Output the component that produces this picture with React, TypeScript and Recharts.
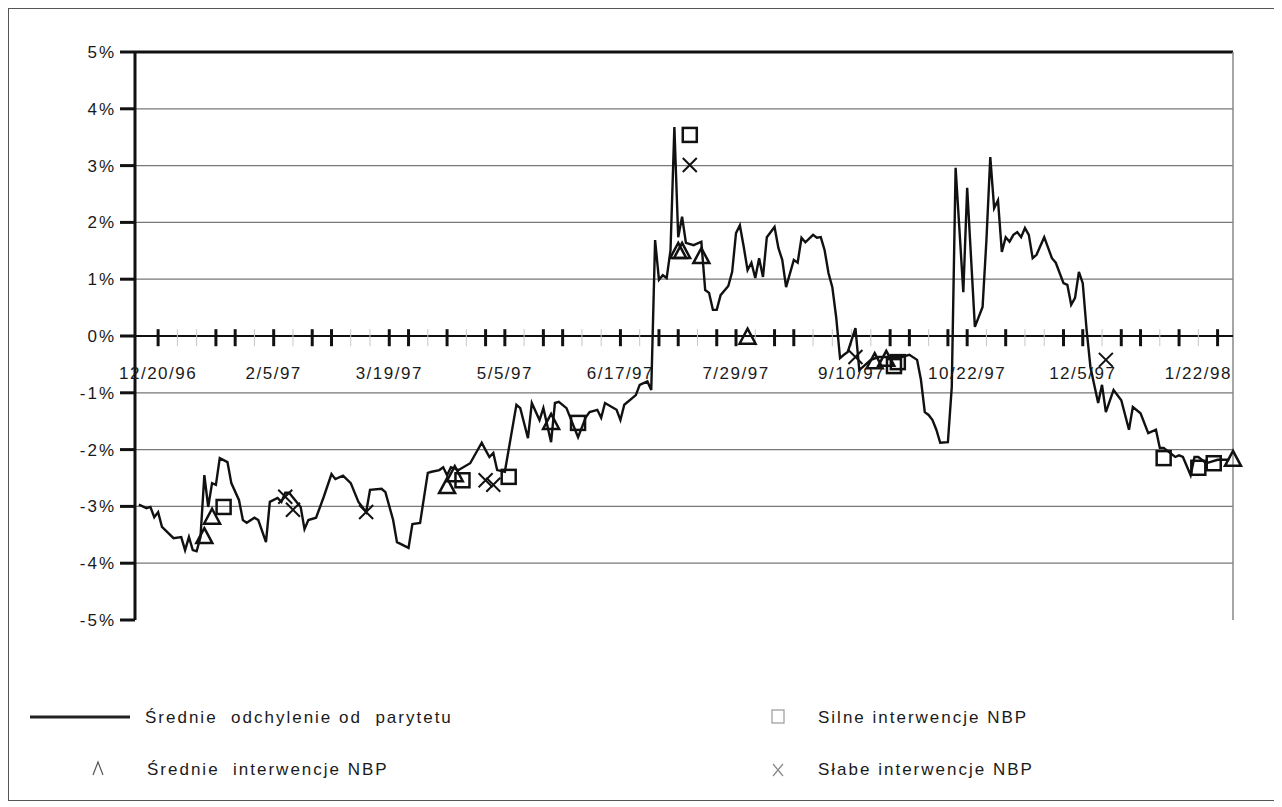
import React from 'react';
import { ComposedChart, Line, Scatter, XAxis, YAxis, ReferenceLine, ReferenceDot } from 'recharts';

// business-day index since the start of the sample, and deviation from parity (%)
const DAY = [
  1, 3, 4, 5, 6, 7, 10, 12, 13, 14, 15, 16, 17, 18, 19, 20, 21, 22, 24, 25, 27, 28, 29, 31, 32, 34, 35, 37, 38, 39,
  40, 43, 44, 45, 47, 49, 51, 52, 54, 56, 58, 60, 61, 64, 65, 67, 68, 71, 72, 74, 76, 77, 79, 80, 81, 82, 84, 87, 90, 91,
  92, 93, 94, 96, 99, 100, 102, 103, 105, 106, 108, 109, 110, 112, 115, 117, 118, 120, 121, 122, 125, 126, 127, 130, 131, 133, 134, 135, 136, 137,
  138, 139, 140, 141, 142, 143, 145, 147, 148, 149, 150, 151, 152, 154, 155, 156, 157, 158, 159, 160, 161, 162, 163, 164, 166, 167, 168, 169, 171, 172,
  173, 174, 176, 177, 178, 179, 180, 181, 182, 183, 184, 185, 187, 188, 191, 193, 197, 199, 201, 203, 204, 205, 206, 207, 208, 209, 211, 212, 213, 215,
  216, 218, 220, 221, 222, 223, 224, 225, 226, 227, 228, 229, 230, 231, 232, 233, 234, 236, 238, 239, 241, 242, 243, 244, 245, 246, 247, 248, 250, 251,
  252, 254, 256, 258, 259, 261, 263, 265, 266, 267, 270, 271, 272, 274, 275, 276, 278, 279, 281, 284,
];
const DEV = [
  -2.97, -3.03, -3.01, -3.19, -3.1, -3.36, -3.56, -3.54, -3.77, -3.54, -3.77, -3.79, -3.54, -2.45, -3.01, -2.59, -2.62, -2.15, -2.22, -2.59, -2.89, -3.24, -3.29, -3.2, -3.24, -3.63, -2.92, -2.85, -2.92, -2.76,
  -2.76, -3.01, -3.4, -3.24, -3.2, -2.83, -2.43, -2.52, -2.46, -2.59, -2.92, -3.1, -2.71, -2.69, -2.75, -3.24, -3.63, -3.73, -3.31, -3.29, -2.41, -2.39, -2.36, -2.31, -2.45, -2.31, -2.36, -2.24, -1.88, -2.01,
  -2.13, -2.06, -2.36, -2.39, -1.21, -1.27, -1.8, -1.18, -1.48, -1.27, -1.87, -1.18, -1.16, -1.27, -1.78, -1.43, -1.34, -1.3, -1.44, -1.18, -1.3, -1.48, -1.21, -1.04, -0.86, -0.8, -0.95, 1.69, 0.99, 1.07,
  1.02, 1.51, 3.68, 1.74, 2.1, 1.64, 1.6, 1.66, 0.81, 0.76, 0.46, 0.46, 0.72, 0.88, 1.13, 1.81, 1.95, 1.57, 1.16, 1.29, 1.02, 1.37, 1.04, 1.74, 1.92, 1.55, 1.34, 0.86, 1.34, 1.29,
  1.73, 1.65, 1.78, 1.73, 1.74, 1.51, 1.11, 0.86, 0.33, -0.39, -0.33, -0.28, 0.14, -0.6, -0.42, -0.37, -0.37, -0.37, -0.33, -0.42, -0.77, -1.34, -1.39, -1.48, -1.65, -1.88, -1.87, -0.9, 2.96, 0.77,
  2.61, 0.16, 0.51, 1.69, 3.15, 2.25, 2.39, 1.48, 1.74, 1.66, 1.78, 1.83, 1.74, 1.9, 1.78, 1.37, 1.43, 1.74, 1.37, 1.29, 0.93, 0.9, 0.55, 0.67, 1.13, 0.93, 0.11, -0.55, -1.18, -0.86,
  -1.34, -0.95, -1.13, -1.65, -1.25, -1.36, -1.71, -1.65, -1.97, -1.97, -2.13, -2.1, -2.13, -2.45, -2.13, -2.13, -2.24, -2.22, -2.18, -2.18,
];

// interventions (Średnie / Silne / Słabe)
const MEDIUM_DAY = [18, 20, 81, 83, 108, 141, 142, 147, 159, 192, 195, 285];
const MEDIUM_DEV = [-3.54, -3.2, -2.66, -2.45, -1.53, 1.48, 1.48, 1.39, -0.03, -0.46, -0.42, -2.18];
const STRONG_DAY = [23, 85, 97, 115, 144, 197, 198, 267, 276, 280];
const STRONG_DEV = [-3.01, -2.54, -2.48, -1.53, 3.54, -0.53, -0.46, -2.15, -2.32, -2.24];
const WEAK_DAY = [39, 41, 60, 91, 93, 144, 187, 252];
const WEAK_DEV = [-2.83, -3.06, -3.1, -2.54, -2.62, 3.01, -0.37, -0.42];

const LABEL_DAY = [6, 36, 66, 96, 126, 156, 186, 216, 246, 276];
const LABELS = ['12/20/96', '2/5/97', '3/19/97', '5/5/97', '6/17/97', '7/29/97', '9/10/97', '10/22/97', '12/5/97', '1/22/98'];
const Y_TICKS = [5, 4, 3, 2, 1, 0, -1, -2, -3, -4, -5];
const GRID = [4, 3, 2, 1, -1, -2, -3, -4];
const TICK_DAY = Array.from({ length: 56 }, (_, i) => 6 + i * 5);
const DARK_TICK = [6, 21, 26, 36, 46, 51, 66, 71, 81, 91, 96, 106, 111, 126, 136, 141, 151, 156, 166, 171, 196, 201, 211, 216, 226, 241, 246, 256, 261, 271, 281];

const lineData = DAY.map((t, i) => ({ t, v: DEV[i] }));
const mediumData = MEDIUM_DAY.map((t, i) => ({ t, v: MEDIUM_DEV[i] }));
const strongData = STRONG_DAY.map((t, i) => ({ t, v: STRONG_DEV[i] }));
const weakData = WEAK_DAY.map((t, i) => ({ t, v: WEAK_DEV[i] }));

const FONT = "'Liberation Sans', Arial, sans-serif";
const W = 1266;
const H = 660;
const M = { top: 43, right: 42, bottom: 49, left: 0 };

const Triangle = (props: any) => {
  const { cx, cy } = props;
  return <path d={`M${cx},${cy - 9} L${cx + 8},${cy + 6} L${cx - 8},${cy + 6} Z`} fill="none" stroke="#111" strokeWidth={2.5} />;
};
const Square = (props: any) => {
  const { cx, cy } = props;
  return <rect x={cx - 7} y={cy - 7} width={14} height={14} fill="none" stroke="#111" strokeWidth={2.5} />;
};
const Cross = (props: any) => {
  const { cx, cy } = props;
  return <path d={`M${cx - 7},${cy - 7} L${cx + 7},${cy + 7} M${cx + 7},${cy - 7} L${cx - 7},${cy + 7}`} stroke="#111" strokeWidth={2} />;
};

const legendText: React.CSSProperties = {
  position: 'absolute',
  fontFamily: FONT,
  fontSize: 17,
  letterSpacing: 2,
  color: '#1a1a1a',
  whiteSpace: 'pre',
  lineHeight: '20px',
};

export default function App() {
  return (
    <div style={{ position: 'relative', width: 1266, height: 791, border: '1px solid #555', background: '#fff' }}>
      <ComposedChart width={W} height={H} margin={M}>
        {GRID.map((g) => (
          <ReferenceLine key={g} y={g} stroke="#777" strokeWidth={1.2} />
        ))}
        <ReferenceLine y={5} stroke="#111" strokeWidth={3} />
        <ReferenceLine x={285} stroke="#888" strokeWidth={1.5} />
        <ReferenceLine y={0} stroke="#111" strokeWidth={2} />
        {TICK_DAY.map((d) => {
          const dark = DARK_TICK.includes(d);
          return (
            <ReferenceLine
              key={'t' + d}
              segment={[{ x: d, y: 0.12 }, { x: d, y: -0.18 }]}
              stroke={dark ? '#111' : '#c8c8c8'}
              strokeWidth={dark ? 3 : 1}
            />
          );
        })}
        {LABEL_DAY.map((d, i) => (
          <ReferenceDot
            key={'l' + d}
            x={d}
            y={-0.65}
            r={0}
            fill="none"
            stroke="none"
            label={{ value: LABELS[i], position: 'center', fill: '#1a1a1a', fontSize: 17, fontFamily: FONT, letterSpacing: 1.5 }}
          />
        ))}
        <XAxis type="number" dataKey="t" domain={[0, 285]} hide />
        <YAxis
          type="number"
          dataKey="v"
          domain={[-5, 5]}
          ticks={Y_TICKS}
          width={126}
          tickSize={15}
          tickMargin={4}
          tickFormatter={(v: number) => `${v}%`}
          axisLine={{ stroke: '#111', strokeWidth: 3 }}
          tickLine={{ stroke: '#111', strokeWidth: 3 }}
          tick={{ fill: '#1a1a1a', fontSize: 17, fontFamily: FONT, letterSpacing: 2 }}
        />
        <Line data={lineData} dataKey="v" type="linear" stroke="#111" strokeWidth={2.4} dot={false} isAnimationActive={false} />
        <Scatter data={mediumData} dataKey="v" shape={<Triangle />} isAnimationActive={false} />
        <Scatter data={strongData} dataKey="v" shape={<Square />} isAnimationActive={false} />
        <Scatter data={weakData} dataKey="v" shape={<Cross />} isAnimationActive={false} />
      </ComposedChart>

      {/* legend */}
      <svg width={W} height={120} style={{ position: 'absolute', left: 0, top: 680 }}>
        <line x1={21} x2={121} y1={28} y2={28} stroke="#222" strokeWidth={3} />
        <path d="M84,86 L89,73 L94,86" fill="none" stroke="#555" strokeWidth={1.2} />
        <rect x={763} y={21} width={12} height={13} fill="none" stroke="#999" strokeWidth={1.2} />
        <path d="M764,75 L774,87 M774,75 L764,87" stroke="#888" strokeWidth={1.2} />
      </svg>
      <div style={{ ...legendText, left: 136, top: 699 }}>{'Średnie  odchylenie od  parytetu'}</div>
      <div style={{ ...legendText, left: 138, top: 751 }}>{'Średnie  interwencje NBP'}</div>
      <div style={{ ...legendText, left: 809, top: 699 }}>{'Silne interwencje NBP'}</div>
      <div style={{ ...legendText, left: 809, top: 751 }}>{'Słabe interwencje NBP'}</div>
    </div>
  );
}
